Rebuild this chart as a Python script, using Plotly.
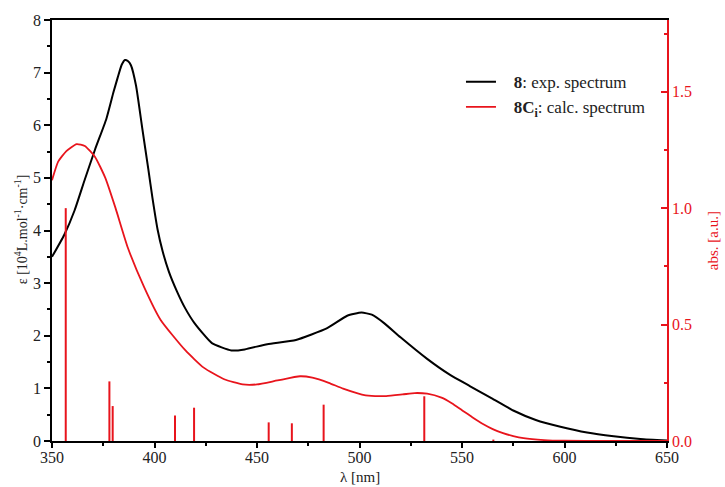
import plotly.graph_objects as go

# Experimental spectrum (left axis, 10^4 L mol^-1 cm^-1)
wl_exp = [350, 356, 361, 366, 371, 376.5, 380, 382, 384, 385.6, 387, 388.5, 391, 394, 397,
          399, 401.5, 404, 407, 411, 415, 419.5, 428, 437.5, 444, 455, 469, 484, 494, 501, 506, 512,
          520, 533, 544, 554, 565, 575, 586, 598, 611, 624, 637, 650]
eps_exp = [3.50, 3.92, 4.38, 4.97, 5.54, 6.12, 6.63, 6.90, 7.15, 7.24, 7.22, 7.14, 6.75, 5.95, 5.16,
           4.62, 4.02, 3.60, 3.22, 2.84, 2.52, 2.24, 1.86, 1.72, 1.74, 1.84, 1.92, 2.14, 2.38, 2.44, 2.40, 2.24,
           1.97, 1.56, 1.26, 1.04, 0.80, 0.58, 0.40, 0.27, 0.16, 0.09, 0.04, 0.01]

# Calculated spectrum (right axis, a.u.)
wl_calc = [350, 353, 357, 362, 366, 371, 376, 381, 387, 395, 403, 415, 424, 434, 443, 450,
           460, 471, 477, 485, 492, 503, 513, 521, 527, 533, 540, 545, 550, 555, 560, 565, 570,
           575, 580, 590, 600, 620, 650]
abs_calc = [1.12, 1.20, 1.245, 1.275, 1.267, 1.22, 1.13, 1.0, 0.83, 0.66, 0.52, 0.39, 0.315, 0.265,
            0.243, 0.243, 0.26, 0.278, 0.272, 0.25, 0.225, 0.196, 0.193, 0.20, 0.206, 0.203, 0.186,
            0.162, 0.132, 0.102, 0.074, 0.051, 0.034, 0.021, 0.012, 0.004, 0.001, 0.0, 0.0]

# Calculated transitions (sticks)
stick_wl = [356.7, 378.0, 379.6, 410.0, 419.3, 455.7, 467.0, 482.5, 531.6, 565.3]
stick_f = [1.0, 0.256, 0.15, 0.109, 0.143, 0.08, 0.076, 0.156, 0.192, 0.006]

RED = "#e8141c"
FONT = "Liberation Serif"
NB = "\u00a0\u00a0\u00a0"

sx, sy = [], []
for w, f in zip(stick_wl, stick_f):
    sx += [w, w, None]
    sy += [0, f, None]

fig = go.Figure()
fig.add_trace(go.Scatter(x=sx, y=sy, mode="lines", line=dict(color=RED, width=2),
                         yaxis="y2", showlegend=False, hoverinfo="skip"))
fig.add_trace(go.Scatter(x=wl_calc, y=abs_calc, mode="lines", yaxis="y2", legendgroup="b",
                         line=dict(color=RED, width=1.8, shape="spline", smoothing=0.5),
                         name=NB + "<b>8C<sub>i</sub></b>: calc. spectrum"))
fig.add_trace(go.Scatter(x=wl_exp, y=eps_exp, mode="lines", legendgroup="a",
                         line=dict(color="black", width=2, shape="spline", smoothing=0.5),
                         name=NB + "<b>8</b>: exp. spectrum"))

fig.update_layout(
    width=725, height=487,
    margin=dict(l=52, r=58, t=20, b=46, autoexpand=False),
    plot_bgcolor="white", paper_bgcolor="white",
    font=dict(family=FONT, size=16, color="#222"),
    legend=dict(x=0.665, y=0.895, xanchor="left", yanchor="top", traceorder="reversed",
                bgcolor="rgba(0,0,0,0)", font=dict(size=17, color="#222"),
                itemwidth=30, tracegroupgap=14),
    xaxis=dict(range=[350, 650], dtick=50, showgrid=False, zeroline=False, automargin=False,
               showline=True, linecolor="black", linewidth=1.5, mirror=True,
               ticks="outside", ticklen=5, tickcolor="black", tickwidth=1.5,
               ticklabelstandoff=-4,
               minor=dict(dtick=25, ticks="outside", ticklen=3, tickcolor="black", tickwidth=1.5)),
    yaxis=dict(range=[0, 8], dtick=1, showgrid=False, zeroline=False, automargin=False,
               showline=True, linecolor="black", linewidth=1.5,
               ticks="outside", ticklen=6, tickcolor="black", tickwidth=1.5,
               minor=dict(dtick=0.5, ticks="outside", ticklen=3, tickcolor="black", tickwidth=1.5)),
    yaxis2=dict(range=[0, 1.808], dtick=0.5, tickformat=".1f", overlaying="y", side="right",
                showgrid=False, zeroline=False, automargin=False,
                showline=True, linecolor=RED, linewidth=1.5,
                ticks="inside", ticklen=6, tickcolor=RED, tickwidth=1.5,
                minor=dict(dtick=0.25, ticks="inside", ticklen=3, tickcolor=RED, tickwidth=1.5),
                tickfont=dict(color=RED, size=16)),
    annotations=[
        dict(text="λ [nm]", xref="paper", yref="paper", x=0.5, y=-0.085,
             xanchor="center", yanchor="middle", showarrow=False, font=dict(size=15, color="#222")),
        dict(text="ε [10<sup>4</sup>L.mol<sup>-1</sup>·cm<sup>-1</sup>]", xref="paper", yref="paper",
             x=-0.0504, y=0.503, textangle=-90, xanchor="center", yanchor="middle",
             showarrow=False, font=dict(size=14, color="#222")),
        dict(text="abs. [a.u.]", xref="paper", yref="paper", x=1.0748, y=0.4746, textangle=-90,
             xanchor="center", yanchor="middle", showarrow=False, font=dict(size=15, color=RED)),
    ],
)

fig.write_html("out.html")
